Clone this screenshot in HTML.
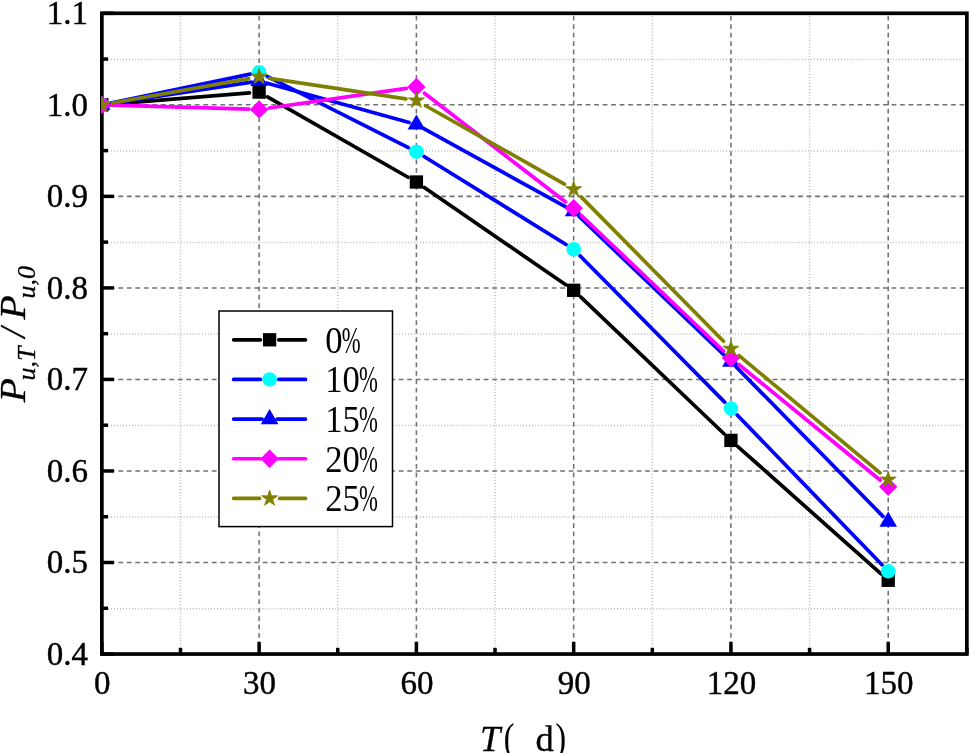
<!DOCTYPE html>
<html><head><meta charset="utf-8"><title>Chart</title>
<style>
html,body{margin:0;padding:0;background:#fff;}
body{width:969px;height:753px;overflow:hidden;}
text{font-family:"Liberation Serif","Noto Serif CJK SC",serif;fill:#000;}
</style></head><body>
<svg width="969" height="753" viewBox="0 0 969 753" style="display:block">
<rect width="969" height="753" fill="#fff"/>
<g stroke="#bcbcbc" stroke-width="1.5" stroke-dasharray="1 2.03" fill="none">
<line x1="180.49" y1="13.30" x2="180.49" y2="654.05"/>
<line x1="337.76" y1="13.30" x2="337.76" y2="654.05"/>
<line x1="495.03" y1="13.30" x2="495.03" y2="654.05"/>
<line x1="652.30" y1="13.30" x2="652.30" y2="654.05"/>
<line x1="809.58" y1="13.30" x2="809.58" y2="654.05"/>
<line x1="101.85" y1="608.63" x2="966.85" y2="608.63"/>
<line x1="101.85" y1="517.10" x2="966.85" y2="517.10"/>
<line x1="101.85" y1="425.56" x2="966.85" y2="425.56"/>
<line x1="101.85" y1="334.03" x2="966.85" y2="334.03"/>
<line x1="101.85" y1="242.49" x2="966.85" y2="242.49"/>
<line x1="101.85" y1="150.95" x2="966.85" y2="150.95"/>
<line x1="101.85" y1="59.42" x2="966.85" y2="59.42"/>
</g>
<g stroke="#727272" stroke-width="1.55" fill="none">
<g stroke-dasharray="4.75 3.705" stroke-dashoffset="5.905">
<line x1="259.12" y1="13.30" x2="259.12" y2="654.05"/>
<line x1="416.40" y1="13.30" x2="416.40" y2="654.05"/>
<line x1="573.67" y1="13.30" x2="573.67" y2="654.05"/>
<line x1="730.94" y1="13.30" x2="730.94" y2="654.05"/>
<line x1="888.21" y1="13.30" x2="888.21" y2="654.05"/>
</g>
<g stroke-dasharray="4.8 3.697" stroke-dashoffset="0.514">
<line x1="101.85" y1="562.51" x2="966.85" y2="562.51"/>
<line x1="101.85" y1="470.98" x2="966.85" y2="470.98"/>
<line x1="101.85" y1="379.44" x2="966.85" y2="379.44"/>
<line x1="101.85" y1="287.91" x2="966.85" y2="287.91"/>
<line x1="101.85" y1="196.37" x2="966.85" y2="196.37"/>
<line x1="101.85" y1="104.84" x2="966.85" y2="104.84"/>
</g>
</g>
<g stroke="#000" stroke-width="3.5" fill="none">
<line x1="101.85" y1="654.05" x2="114.05" y2="654.05"/>
<line x1="101.85" y1="562.51" x2="114.05" y2="562.51"/>
<line x1="101.85" y1="470.98" x2="114.05" y2="470.98"/>
<line x1="101.85" y1="379.44" x2="114.05" y2="379.44"/>
<line x1="101.85" y1="287.91" x2="114.05" y2="287.91"/>
<line x1="101.85" y1="196.37" x2="114.05" y2="196.37"/>
<line x1="101.85" y1="104.84" x2="114.05" y2="104.84"/>
<line x1="101.85" y1="13.30" x2="114.05" y2="13.30"/>
<line x1="101.85" y1="608.28" x2="108.05" y2="608.28"/>
<line x1="101.85" y1="516.75" x2="108.05" y2="516.75"/>
<line x1="101.85" y1="425.21" x2="108.05" y2="425.21"/>
<line x1="101.85" y1="333.68" x2="108.05" y2="333.68"/>
<line x1="101.85" y1="242.14" x2="108.05" y2="242.14"/>
<line x1="101.85" y1="150.60" x2="108.05" y2="150.60"/>
<line x1="101.85" y1="59.07" x2="108.05" y2="59.07"/>
<line x1="101.85" y1="654.05" x2="101.85" y2="641.85"/>
<line x1="259.12" y1="654.05" x2="259.12" y2="641.85"/>
<line x1="416.40" y1="654.05" x2="416.40" y2="641.85"/>
<line x1="573.67" y1="654.05" x2="573.67" y2="641.85"/>
<line x1="730.94" y1="654.05" x2="730.94" y2="641.85"/>
<line x1="888.21" y1="654.05" x2="888.21" y2="641.85"/>
<line x1="180.49" y1="654.05" x2="180.49" y2="647.85"/>
<line x1="337.76" y1="654.05" x2="337.76" y2="647.85"/>
<line x1="495.03" y1="654.05" x2="495.03" y2="647.85"/>
<line x1="652.30" y1="654.05" x2="652.30" y2="647.85"/>
<line x1="809.58" y1="654.05" x2="809.58" y2="647.85"/>
<line x1="966.85" y1="654.05" x2="966.85" y2="647.85"/>
</g>
<rect x="101.85" y="13.30" width="865.00" height="640.75" fill="none" stroke="#000" stroke-width="3.7"/>
<defs><clipPath id="pc"><rect x="101.10" y="13.30" width="865.00" height="640.75"/></clipPath></defs>
<g clip-path="url(#pc)">
<g stroke="#000000" stroke-width="3.7" stroke-linecap="round" fill="none">
<line x1="111.42" y1="104.06" x2="249.55" y2="92.89"/>
<line x1="267.46" y1="96.88" x2="408.06" y2="177.24"/>
<line x1="424.30" y1="187.44" x2="565.76" y2="284.84"/>
<line x1="580.61" y1="296.92" x2="724.00" y2="433.78"/>
<line x1="738.11" y1="446.79" x2="881.04" y2="573.89"/>
</g>
<rect x="95.20" y="98.19" width="13.30" height="13.30" fill="#000000"/>
<rect x="252.47" y="85.46" width="13.30" height="13.30" fill="#000000"/>
<rect x="409.75" y="175.35" width="13.30" height="13.30" fill="#000000"/>
<rect x="567.02" y="283.64" width="13.30" height="13.30" fill="#000000"/>
<rect x="724.29" y="433.76" width="13.30" height="13.30" fill="#000000"/>
<rect x="881.56" y="573.62" width="13.30" height="13.30" fill="#000000"/>
<g stroke="#0000ff" stroke-width="3.7" stroke-linecap="round" fill="none">
<line x1="110.66" y1="103.01" x2="250.31" y2="74.08"/>
<line x1="267.16" y1="76.31" x2="408.36" y2="147.64"/>
<line x1="424.04" y1="156.45" x2="566.02" y2="244.53"/>
<line x1="579.99" y1="255.68" x2="724.62" y2="402.15"/>
<line x1="737.20" y1="415.02" x2="881.96" y2="564.83"/>
</g>
<circle cx="101.85" cy="104.84" r="7.3" fill="#00ffff"/>
<circle cx="259.12" cy="72.25" r="7.3" fill="#00ffff"/>
<circle cx="416.40" cy="151.70" r="7.3" fill="#00ffff"/>
<circle cx="573.67" cy="249.28" r="7.3" fill="#00ffff"/>
<circle cx="730.94" cy="408.55" r="7.3" fill="#00ffff"/>
<circle cx="888.21" cy="571.30" r="7.3" fill="#00ffff"/>
<g stroke="#0000ff" stroke-width="3.7" stroke-linecap="round" fill="none">
<line x1="109.27" y1="103.71" x2="251.71" y2="82.16"/>
<line x1="266.35" y1="83.03" x2="409.17" y2="122.52"/>
<line x1="422.96" y1="128.14" x2="567.10" y2="207.67"/>
<line x1="579.09" y1="216.47" x2="725.52" y2="356.41"/>
<line x1="736.20" y1="366.94" x2="882.96" y2="516.34"/>
</g>
<polygon points="101.85,94.77 110.65,109.87 93.05,109.87" fill="#0000ff"/>
<polygon points="259.12,70.97 267.92,86.07 250.32,86.07" fill="#0000ff"/>
<polygon points="416.40,114.45 425.20,129.55 407.60,129.55" fill="#0000ff"/>
<polygon points="573.67,201.23 582.47,216.33 564.87,216.33" fill="#0000ff"/>
<polygon points="730.94,351.53 739.74,366.63 722.14,366.63" fill="#0000ff"/>
<polygon points="888.21,511.62 897.01,526.72 879.41,526.72" fill="#0000ff"/>
<g stroke="#ff00ff" stroke-width="3.7" stroke-linecap="round" fill="none">
<line x1="112.05" y1="105.13" x2="248.93" y2="109.12"/>
<line x1="269.22" y1="107.97" x2="406.30" y2="88.43"/>
<line x1="424.47" y1="93.21" x2="565.59" y2="201.95"/>
<line x1="581.05" y1="215.22" x2="723.56" y2="350.99"/>
<line x1="738.83" y1="364.48" x2="880.32" y2="480.26"/>
</g>
<polygon points="101.85,95.64 111.05,104.84 101.85,114.04 92.65,104.84" fill="#ff00ff"/>
<polygon points="259.12,100.21 268.32,109.41 259.12,118.61 249.92,109.41" fill="#ff00ff"/>
<polygon points="416.40,77.79 425.60,86.99 416.40,96.19 407.20,86.99" fill="#ff00ff"/>
<polygon points="573.67,198.98 582.87,208.18 573.67,217.38 564.47,208.18" fill="#ff00ff"/>
<polygon points="730.94,348.82 740.14,358.02 730.94,367.22 721.74,358.02" fill="#ff00ff"/>
<polygon points="888.21,477.52 897.41,486.72 888.21,495.92 879.01,486.72" fill="#ff00ff"/>
<g stroke="#808000" stroke-width="3.7" stroke-linecap="round" fill="none">
<line x1="112.29" y1="102.98" x2="248.69" y2="78.68"/>
<line x1="269.60" y1="78.41" x2="405.91" y2="98.95"/>
<line x1="425.63" y1="105.74" x2="564.44" y2="184.11"/>
<line x1="581.11" y1="196.87" x2="723.50" y2="341.23"/>
<line x1="739.09" y1="355.56" x2="880.07" y2="472.89"/>
</g>
<polygon points="101.85,96.34 103.76,102.21 109.93,102.21 104.94,105.84 106.85,111.71 101.85,108.08 96.85,111.71 98.76,105.84 93.77,102.21 99.94,102.21" fill="#808000" stroke="#808000" stroke-width="0.8" stroke-linejoin="round"/>
<polygon points="259.12,68.33 261.03,74.20 267.21,74.20 262.21,77.83 264.12,83.70 259.12,80.07 254.13,83.70 256.03,77.83 251.04,74.20 257.21,74.20" fill="#808000" stroke="#808000" stroke-width="0.8" stroke-linejoin="round"/>
<polygon points="416.40,92.03 418.30,97.91 424.48,97.91 419.48,101.54 421.39,107.41 416.40,103.78 411.40,107.41 413.31,101.54 408.31,97.91 414.49,97.91" fill="#808000" stroke="#808000" stroke-width="0.8" stroke-linejoin="round"/>
<polygon points="573.67,180.82 575.58,186.70 581.75,186.70 576.76,190.33 578.66,196.20 573.67,192.57 568.67,196.20 570.58,190.33 565.58,186.70 571.76,186.70" fill="#808000" stroke="#808000" stroke-width="0.8" stroke-linejoin="round"/>
<polygon points="730.94,340.28 732.85,346.15 739.02,346.15 734.03,349.78 735.94,355.66 730.94,352.03 725.94,355.66 727.85,349.78 722.86,346.15 729.03,346.15" fill="#808000" stroke="#808000" stroke-width="0.8" stroke-linejoin="round"/>
<polygon points="888.21,471.17 890.12,477.05 896.30,477.05 891.30,480.68 893.21,486.55 888.21,482.92 883.22,486.55 885.13,480.68 880.13,477.05 886.31,477.05" fill="#808000" stroke="#808000" stroke-width="0.8" stroke-linejoin="round"/>
</g>
<rect x="219" y="311" width="173.5" height="215.60000000000002" fill="#fff" stroke="#000" stroke-width="1.5"/>
<path d="M233.7 339.80H260.40M278.80 339.80H305.5" stroke="#000000" stroke-width="3.7" stroke-linecap="round" fill="none"/>
<rect x="262.95" y="333.15" width="13.30" height="13.30" fill="#000000"/>
<text transform="translate(325.3,352.70) scale(1,1.09)" font-size="34.6">0</text><text transform="translate(341.70,352.70) scale(0.655,1.09)" font-size="34.6">%</text>
<path d="M233.7 379.45H260.40M278.80 379.45H305.5" stroke="#0000ff" stroke-width="3.7" stroke-linecap="round" fill="none"/>
<circle cx="269.60" cy="379.45" r="7.3" fill="#00ffff"/>
<text transform="translate(325.3,392.35) scale(1,1.09)" font-size="34.6">10</text><text transform="translate(359.00,392.35) scale(0.655,1.09)" font-size="34.6">%</text>
<path d="M233.7 419.10H262.10M277.10 419.10H305.5" stroke="#0000ff" stroke-width="3.7" stroke-linecap="round" fill="none"/>
<polygon points="269.60,409.03 278.40,424.13 260.80,424.13" fill="#0000ff"/>
<text transform="translate(325.3,432.00) scale(1,1.09)" font-size="34.6">15</text><text transform="translate(359.00,432.00) scale(0.655,1.09)" font-size="34.6">%</text>
<path d="M233.7 458.75H260.40M278.80 458.75H305.5" stroke="#ff00ff" stroke-width="3.7" stroke-linecap="round" fill="none"/>
<polygon points="269.60,449.55 278.80,458.75 269.60,467.95 260.40,458.75" fill="#ff00ff"/>
<text transform="translate(325.3,471.65) scale(1,1.09)" font-size="34.6">20</text><text transform="translate(359.00,471.65) scale(0.655,1.09)" font-size="34.6">%</text>
<path d="M233.7 498.40H259.60M279.60 498.40H305.5" stroke="#808000" stroke-width="3.7" stroke-linecap="round" fill="none"/>
<polygon points="269.60,489.90 271.51,495.77 277.68,495.77 272.69,499.40 274.60,505.28 269.60,501.65 264.60,505.28 266.51,499.40 261.52,495.77 267.69,495.77" fill="#808000" stroke="#808000" stroke-width="0.8" stroke-linejoin="round"/>
<text transform="translate(325.3,511.30) scale(1,1.09)" font-size="34.6">25</text><text transform="translate(359.00,511.30) scale(0.655,1.09)" font-size="34.6">%</text>
<g font-size="34.5" stroke="#000" stroke-width="0.45">
<text transform="translate(88,664.85) scale(0.957,1)" text-anchor="end">0.4</text>
<text transform="translate(88,573.31) scale(0.957,1)" text-anchor="end">0.5</text>
<text transform="translate(88,481.78) scale(0.957,1)" text-anchor="end">0.6</text>
<text transform="translate(88,390.24) scale(0.957,1)" text-anchor="end">0.7</text>
<text transform="translate(88,298.71) scale(0.957,1)" text-anchor="end">0.8</text>
<text transform="translate(88,207.17) scale(0.957,1)" text-anchor="end">0.9</text>
<text transform="translate(88,115.64) scale(0.957,1)" text-anchor="end">1.0</text>
<text transform="translate(88,24.10) scale(0.957,1)" text-anchor="end">1.1</text>
<text transform="translate(102.35,694.3) scale(0.957,1)" text-anchor="middle">0</text>
<text transform="translate(259.62,694.3) scale(0.957,1)" text-anchor="middle">30</text>
<text transform="translate(416.90,694.3) scale(0.957,1)" text-anchor="middle">60</text>
<text transform="translate(574.17,694.3) scale(0.957,1)" text-anchor="middle">90</text>
<text transform="translate(731.44,694.3) scale(0.957,1)" text-anchor="middle">120</text>
<text transform="translate(888.71,694.3) scale(0.957,1)" text-anchor="middle">150</text>
</g>
<g font-size="36.5" stroke="#000" stroke-width="0.3">
<text x="480" y="750.6" font-style="italic">T</text>
<text transform="translate(503.8,750.6) scale(0.87,1.1)" stroke-width="0.1">( </text>
<text transform="translate(535.5,750.6) scale(1,0.965)">d</text>
<text transform="translate(555.5,750.6) scale(0.87,1.1)" stroke-width="0.1">)</text>
</g>
<g transform="translate(25.3,402.2) rotate(-90)" font-size="36.3" font-style="italic" stroke="#000" stroke-width="0.3">
<text transform="scale(1.09,1)">P</text>
<text x="21.6" y="9.9" font-size="26">u,T</text>
<text x="64.8" y="0">/</text>
<text transform="translate(82.6,0) scale(1.09,1)">P</text>
<text x="103.7" y="9.9" font-size="26">u,0</text>
</g>
</svg>
</body></html>
